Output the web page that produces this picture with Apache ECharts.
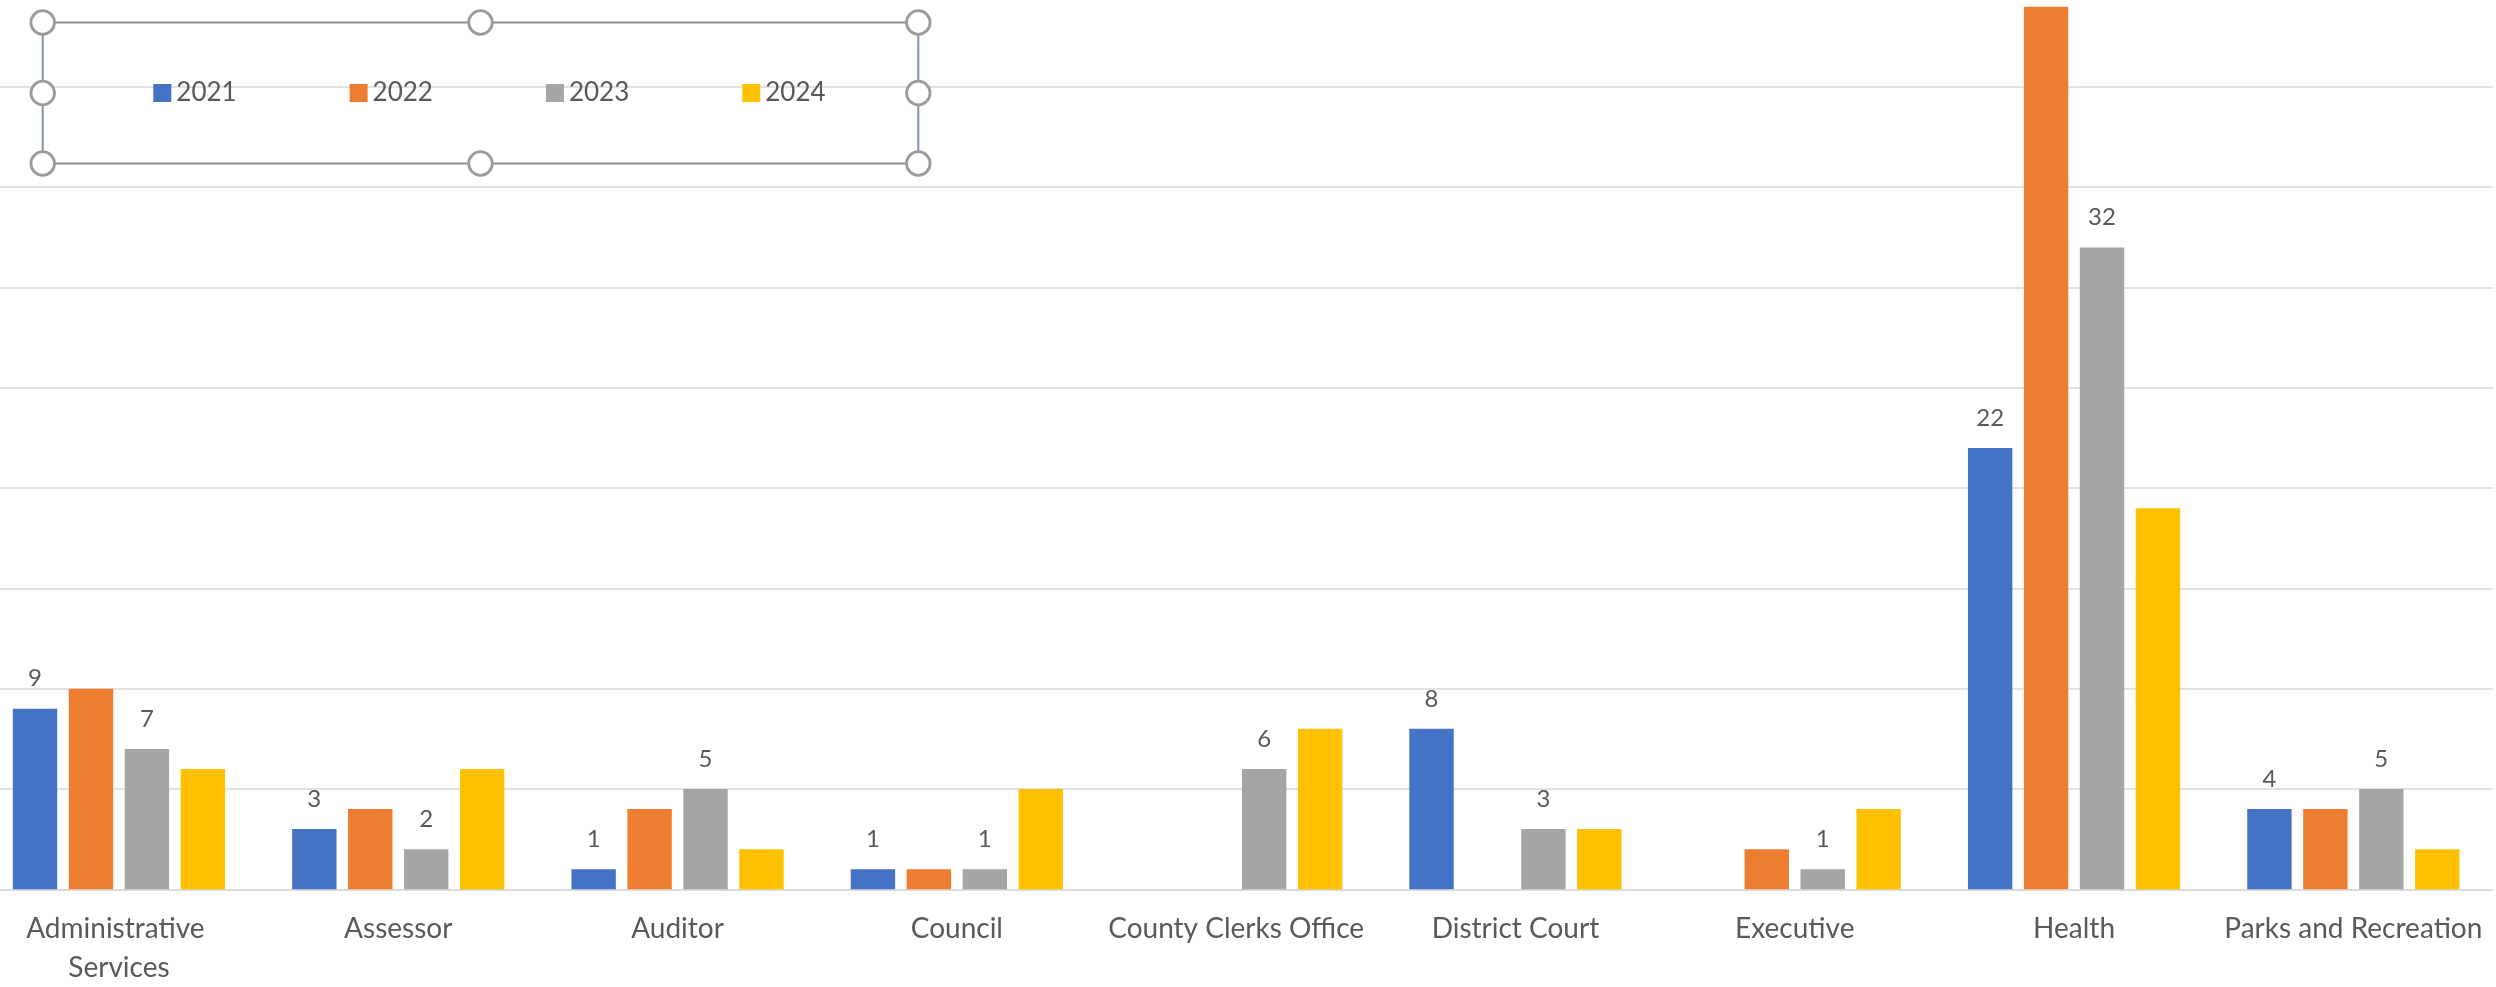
<!DOCTYPE html>
<html>
<head>
<meta charset="utf-8">
<script src="https://cdn.jsdelivr.net/npm/echarts@6/dist/echarts.min.js"></script>
<style>
  html, body { margin: 0; padding: 0; background: #ffffff; }
  #chart { width: 2496px; height: 987px; }
</style>
</head>
<body>
<div id="chart"></div>
<script>
// Departments along the category axis
const categories = [
  'Administrative Services', 'Assessor', 'Auditor', 'Council',
  'County Clerks Office', 'District Court', 'Executive', 'Health',
  'Parks and Recreation'
];

// Counts per department, one array per year
const years = ['2021', '2022', '2023', '2024'];
const values2021 = [9, 3, 1, 1, 0, 8, 0, 22, 4];
const values2022 = [10, 4, 4, 1, 0, 0, 2, 44, 4];
const values2023 = [7, 2, 5, 1, 6, 3, 1, 32, 5];
const values2024 = [6, 6, 2, 5, 8, 3, 4, 19, 2];

const colors = ['#4472C4', '#ED7D31', '#A5A5A5', '#FFC000'];
const FONT = 'Lato, "Open Sans", "Liberation Sans", sans-serif';
const TEXT = '#595959';

// Only the 2021 and 2023 bars carry value labels; empty bars show nothing
function valueLabel(show) {
  return {
    show: show,
    position: 'top',
    distance: 18,
    color: TEXT,
    fontFamily: FONT,
    fontSize: 24,
    formatter: p => (p.value ? String(p.value) : '')
  };
}

const seriesData = [values2021, values2022, values2023, values2024];
const series = years.map((y, i) => ({
  name: y,
  type: 'bar',
  data: seriesData[i],
  barWidth: 44.4,
  barGap: '26%',
  itemStyle: { color: colors[i] },
  label: valueLabel(i === 0 || i === 2),
  emphasis: { disabled: true }
}));

// Selection frame around the legend: edges plus eight round handles
const boxL = 42.7, boxR = 918.3, boxT = 22.5, boxB = 163.5;
const boxMX = (boxL + boxR) / 2, boxMY = (boxT + boxB) / 2;
const edgeGray = '#8e8e8e', edgeBlue = '#8091ad';
const frame = [
  { type: 'line', shape: { x1: boxL, y1: boxT, x2: boxR, y2: boxT }, style: { stroke: edgeGray, lineWidth: 2 } },
  { type: 'line', shape: { x1: boxL, y1: boxB, x2: boxR, y2: boxB }, style: { stroke: edgeGray, lineWidth: 2 } },
  { type: 'line', shape: { x1: boxL, y1: boxT, x2: boxL, y2: boxB }, style: { stroke: edgeBlue, lineWidth: 2 } },
  { type: 'line', shape: { x1: boxR, y1: boxT, x2: boxR, y2: boxB }, style: { stroke: edgeBlue, lineWidth: 2 } }
];
const handlePts = [
  [boxL, boxT], [boxMX, boxT], [boxR, boxT],
  [boxL, boxMY], [boxR, boxMY],
  [boxL, boxB], [boxMX, boxB], [boxR, boxB]
];
handlePts.forEach(p => frame.push({
  type: 'circle',
  shape: { cx: p[0], cy: p[1], r: 11.8 },
  style: { fill: '#ffffff', stroke: '#9b9b9b', lineWidth: 2.8 },
  z: 100
}));

const chart = echarts.init(document.getElementById('chart'), null, { renderer: 'canvas' });
chart.setOption({
  animation: false,
  backgroundColor: '#ffffff',
  color: colors,
  textStyle: { fontFamily: FONT },
  grid: {
    left: -20.7, right: 3, top: -13.4, bottom: 97.7,
    containLabel: false,
    outerBoundsMode: 'none'
  },
  legend: {
    data: years,
    left: 153.3,
    top: 80,
    padding: 0,
    icon: 'rect',
    itemWidth: 18,
    itemHeight: 18,
    itemGap: 113,
    selectedMode: false,
    textStyle: { color: TEXT, fontFamily: FONT, fontSize: 26, width: 58 }
  },
  xAxis: {
    type: 'category',
    data: categories,
    axisLine: { lineStyle: { color: '#d9d9d9', width: 1.5 } },
    axisTick: { show: false },
    axisLabel: {
      color: TEXT,
      fontFamily: FONT,
      fontSize: 28,
      lineHeight: 39,
      margin: 20,
      interval: 0,
      width: 270,
      overflow: 'break'
    }
  },
  yAxis: {
    type: 'value',
    min: 0,
    max: 45,
    interval: 5,
    axisLine: { show: false },
    axisTick: { show: false },
    axisLabel: { show: false },
    splitLine: { lineStyle: { color: '#d9d9d9', width: 1.5 } }
  },
  graphic: frame,
  series: series
});
</script>
</body>
</html>
